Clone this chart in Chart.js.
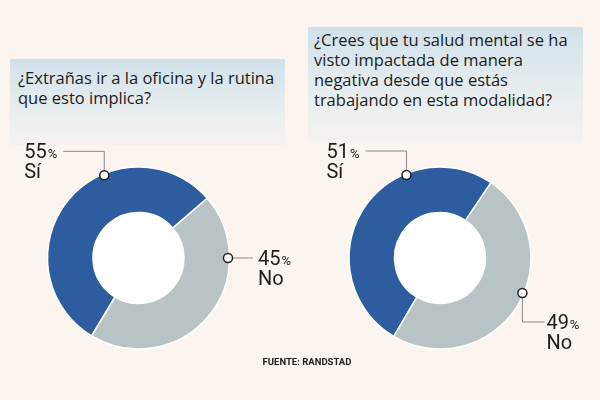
<!DOCTYPE html>
<html>
<head>
<meta charset="utf-8">
<script src="https://cdn.jsdelivr.net/npm/chart.js@4.4.1/dist/chart.umd.min.js"></script>
<style>
  html, body { margin: 0; padding: 0; }
  body { width: 600px; height: 400px; background: #fcf4ee; position: relative; overflow: hidden; font-family: Roboto, sans-serif; }
  .question { position: absolute; background: linear-gradient(to bottom, #d1e1ea 0%, #e8eeef 60%, #f5f2ee 100%);
    color: #1c1c1c; font-family: "Open Sans", sans-serif; font-size: 16.5px; line-height: 20px; box-sizing: border-box;
    padding: 8px; white-space: pre-line; }
  .chart-box { position: absolute; top: 116px; height: 284px; }
  #source { position: absolute; left: 0; width: 614px; top: 356px; text-align: center; font-size: 9.5px; font-weight: 700; color: #222; }
</style>
</head>
<body>
<div class="question" id="q1" style="left:10px; top:59px; width:275px; height:86px; padding-top:9px;"></div>
<div class="question" id="q2" style="left:308px; top:27px; width:275px; height:116px; padding-top:3px; padding-left:6px;"></div>
<div class="chart-box" style="left:0px; width:300px;"><canvas id="chartOficina"></canvas></div>
<div class="chart-box" style="left:280px; width:320px;"><canvas id="chartSalud"></canvas></div>
<div id="source">FUENTE: RANDSTAD</div>
<script>
var categories = ["Sí", "No"];
var oficinaValues = [55, 45];
var saludValues = [51, 49];
var questionOficina = "¿Extrañas ir a la oficina y la rutina\nque esto implica?";
var questionSalud = "¿Crees que tu salud mental se ha\nvisto impactada de manera\nnegativa desde que estás\ntrabajando en esta modalidad?";
var sourceText = "FUENTE: RANDSTAD";

var sliceColors = ['#2d5c9f', '#b8c3c6'];

// white hole in the middle + labels with leader lines
var leaderLabels = {
     id: 'leaderLabels',
     beforeDatasetsDraw: function (chart) {
          var arc = chart.getDatasetMeta(0).data[0];
          var ctx = chart.ctx;
          ctx.save();
          ctx.fillStyle = '#ffffff';
          ctx.beginPath();
          ctx.arc(arc.x, arc.y, arc.innerRadius, 0, Math.PI * 2);
          ctx.fill();
          ctx.restore();
     },
     afterDatasetsDraw: function (chart, args, opts) {
          var ctx = chart.ctx;
          var meta = chart.getDatasetMeta(0);
          var values = chart.data.datasets[0].data;
          var labels = chart.data.labels;
          opts.items.forEach(function (item, i) {
               var arc = meta.data[i];
               var a = (item.angle - 90) * Math.PI / 180;
               var r = arc.outerRadius - 1.5;
               var x = arc.x + Math.cos(a) * r;
               var y = arc.y + Math.sin(a) * r;

               ctx.save();
               ctx.strokeStyle = '#8a8a8a';
               ctx.lineWidth = 1;
               ctx.beginPath();
               ctx.moveTo(x, y);
               var px = x, py = y;
               item.path.forEach(function (p) {
                    px += p[0]; py += p[1];
                    ctx.lineTo(px, py);
               });
               ctx.stroke();

               // marker
               ctx.fillStyle = '#ffffff';
               ctx.strokeStyle = '#1e1e1e';
               ctx.lineWidth = 1.5;
               ctx.beginPath();
               ctx.arc(x, y, 4.5, 0, Math.PI * 2);
               ctx.fill();
               ctx.stroke();

               // text
               var num = String(values[i]);
               ctx.fillStyle = '#1e1e1e';
               ctx.textBaseline = 'alphabetic';
               ctx.font = '400 20px Roboto';
               var wNum = ctx.measureText(num).width;
               ctx.font = '400 13px Roboto';
               var wPct = ctx.measureText('%').width;
               var left = item.side == 'left' ? px - item.gap - (wNum + wPct + 1) : px + item.gap;
               var base = py + 7;
               ctx.font = '400 20px Roboto';
               ctx.fillText(num, left, base);
               ctx.font = '400 13px Roboto';
               ctx.fillText('%', left + wNum + 1, base);
               ctx.font = '400 20px Roboto';
               ctx.fillText(labels[i], left, base + 20);
               ctx.restore();
          });
     }
};

var makeConfig = function (values, rotation, items, padRight, padLeft) {
     return {
          type: 'doughnut',
          data: {
               labels: categories,
               datasets: [{
                    data: values,
                    backgroundColor: sliceColors,
                    borderColor: '#ffffff',
                    borderWidth: 1.5,
                    hoverOffset: 0
               }]
          },
          options: {
               responsive: true,
               maintainAspectRatio: false,
               animation: false,
               events: [],
               rotation: rotation,
               radius: 91,
               cutout: '50%',
               layout: { padding: { left: padLeft, right: padRight } },
               plugins: {
                    legend: { display: false },
                    tooltip: { enabled: false },
                    leaderLabels: { items: items }
               }
          },
          plugins: [leaderLabels]
     };
};

window.onload = function () {
     document.getElementById('q1').textContent = questionOficina;
     document.getElementById('q2').textContent = questionSalud;
     document.getElementById('source').textContent = sourceText;

     var ctx1 = document.getElementById('chartOficina').getContext('2d');
     new Chart(ctx1, makeConfig(oficinaValues, -149, [
          { angle: -22.5, path: [[0, -24], [-41, 0]], side: 'left', gap: 6 },
          { angle: 90, path: [[25, 0]], side: 'right', gap: 5 }
     ], 23, 0));

     var ctx2 = document.getElementById('chartSalud').getContext('2d');
     new Chart(ctx2, makeConfig(saludValues, -149.5, [
          { angle: -22, path: [[0, -24], [-41, 0]], side: 'left', gap: 6 },
          { angle: 113, path: [[0, 29], [22, 0]], side: 'right', gap: 2 }
     ], 0, 0));
};
</script>
</body>
</html>
